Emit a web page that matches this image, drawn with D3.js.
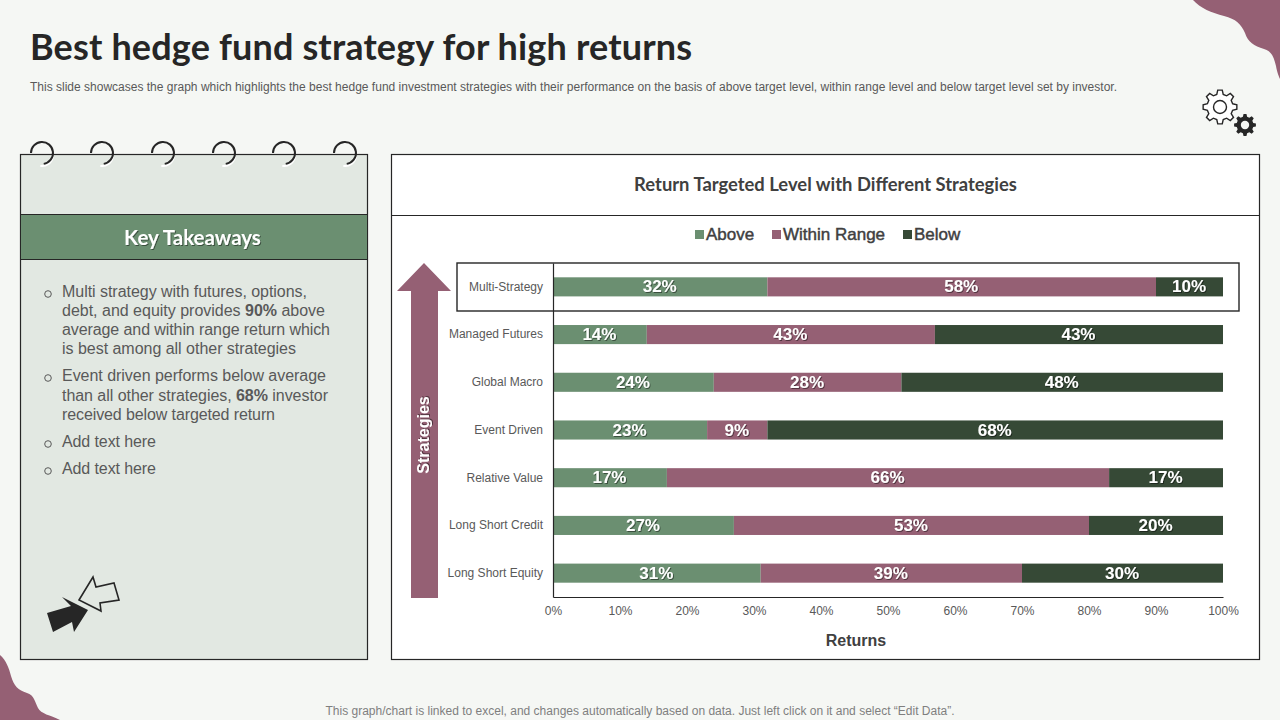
<!DOCTYPE html>
<html>
<head>
<meta charset="utf-8">
<script src="https://cdn.jsdelivr.net/npm/d3@7"></script>
<style>
  html, body { margin: 0; padding: 0; background: #f5f7f4; }
  svg { display: block; }
  text { font-family: "Liberation Sans", Arial, sans-serif; }
  .head { font-family: Lato, "Open Sans", sans-serif; font-weight: 700; }
</style>
</head>
<body>
<svg id="chart" width="1280" height="720"></svg>
<script>
// chart data
const categories = ["Multi-Strategy", "Managed Futures", "Global Macro", "Event Driven", "Relative Value", "Long Short Credit", "Long Short Equity"];
const seriesNames = ["Above", "Within Range", "Below"];
const above = [32, 14, 24, 23, 17, 27, 31];
const withinRange = [58, 43, 28, 9, 66, 53, 39];
const below = [10, 43, 48, 68, 17, 20, 30];
const xTicks = [0, 10, 20, 30, 40, 50, 60, 70, 80, 90, 100];

const green = "#6b8f71", plum = "#956074", dark = "#364936";
const ink = "#262626", grey = "#595959";

const svg = d3.select("#chart");

const defs = svg.append("defs");
const shadow = defs.append("filter").attr("id", "txtShadow").attr("x", "-10%").attr("y", "-20%").attr("width", "120%").attr("height", "150%");
shadow.append("feDropShadow").attr("dx", 1).attr("dy", 1).attr("stdDeviation", 0.6).attr("flood-color", "#000").attr("flood-opacity", 0.45);

// corner blobs
svg.append("path").attr("fill", plum)
  .attr("d", "M1193,0 C1200,8 1212,13 1224,16 C1236,19 1241,24 1245,33 C1248,42 1254,46 1264,49 C1272,51 1274,58 1276,66 C1277,72 1279,77 1280,79 L1280,0 Z");
svg.append("path").attr("fill", plum)
  .attr("d", "M0,655 C6,660 9,668 11,676 C14,686 18,690 27,693 C34,695 35,702 38,708 C41,714 50,715 60,720 L0,720 Z");

// title block
svg.append("text").attr("class", "head").attr("x", 30).attr("y", 60)
  .attr("font-size", 36).attr("fill", ink).attr("textLength", 662)
  .text("Best hedge fund strategy for high returns");
svg.append("text").attr("x", 30).attr("y", 91).attr("font-size", 12).attr("fill", grey)
  .attr("textLength", 1087)
  .text("This slide showcases the graph which highlights the best hedge fund investment strategies with their performance on the basis of above target level, within range level and below target level set by investor.");
svg.append("text").attr("x", 640).attr("y", 715).attr("text-anchor", "middle").attr("font-size", 12).attr("fill", "#7f7f7f")
  .text("This graph/chart is linked to excel, and changes automatically based on data. Just left click on it and select \u201cEdit Data\u201d.");

// gears
function gearPath(cx, cy, rOut, rIn, teeth) {
  const pts = [];
  const step = Math.PI * 2 / teeth;
  for (let i = 0; i < teeth; i++) {
    const a = i * step;
    pts.push([a - step * 0.32, rIn], [a - step * 0.17, rOut], [a + step * 0.17, rOut], [a + step * 0.32, rIn]);
  }
  return d3.line().curve(d3.curveLinearClosed)
    .x(d => cx + d[1] * Math.cos(d[0]))
    .y(d => cy + d[1] * Math.sin(d[0]))(pts);
}
svg.append("path").attr("d", gearPath(1220, 107, 17, 13, 8)).attr("fill", "#fff").attr("stroke", ink).attr("stroke-width", 1.4);
svg.append("circle").attr("cx", 1220).attr("cy", 107).attr("r", 6.5).attr("fill", "none").attr("stroke", ink).attr("stroke-width", 1.4);
svg.append("path").attr("d", gearPath(1245, 125, 11, 8.5, 8)).attr("fill", ink);
svg.append("circle").attr("cx", 1245).attr("cy", 125).attr("r", 4.2).attr("fill", "#f5f7f4");

// left notepad panel
const panel = svg.append("g");
panel.append("rect").attr("x", 20.5).attr("y", 154.5).attr("width", 347).attr("height", 505)
  .attr("fill", "#e2e8e2").attr("stroke", ink).attr("stroke-width", 1.2);
panel.append("rect").attr("x", 20.5).attr("y", 214.5).attr("width", 347).attr("height", 45)
  .attr("fill", green).attr("stroke", ink).attr("stroke-width", 1);
panel.append("text").attr("class", "head").attr("x", 192.5).attr("y", 245).attr("text-anchor", "middle")
  .attr("font-size", 20.5).attr("fill", "#fff").attr("filter", "url(#txtShadow)").text("Key Takeaways");

const ringX = [42, 102, 163, 224, 284, 345];
const ringArc = d3.arc().innerRadius(10).outerRadius(12).startAngle(-Math.PI / 2).endAngle(Math.PI * 0.95);
panel.selectAll(".ringShadow").data(ringX).enter().append("path")
  .attr("transform", d => `translate(${d},155)`)
  .attr("d", d3.arc().innerRadius(10).outerRadius(12).startAngle(Math.PI * 0.55).endAngle(Math.PI * 1.05)())
  .attr("fill", "#fff");
panel.selectAll(".ring").data(ringX).enter().append("path")
  .attr("transform", d => `translate(${d},153)`)
  .attr("d", ringArc())
  .attr("fill", ink);

// takeaway bullets, each line is one text element stretched to the reference width
const bulletLines = [
  { y: 297, w: 245, bullet: true, parts: [["Multi strategy with futures, options,", 400]] },
  { y: 316, w: 263, parts: [["debt, and equity provides ", 400], ["90%", 700], [" above", 400]] },
  { y: 335, w: 268, parts: [["average and within range return which", 400]] },
  { y: 354, w: 234, parts: [["is best among all other strategies", 400]] },
  { y: 381, w: 264, bullet: true, parts: [["Event driven performs below average", 400]] },
  { y: 401, w: 266, parts: [["than all other strategies, ", 400], ["68%", 700], [" investor", 400]] },
  { y: 420, w: 213, parts: [["received below targeted return", 400]] },
  { y: 447, w: 94, bullet: true, parts: [["Add text here", 400]] },
  { y: 474, w: 94, bullet: true, parts: [["Add text here", 400]] }
];
bulletLines.forEach(line => {
  const t = panel.append("text").attr("x", 62).attr("y", line.y).attr("font-size", 16).attr("fill", grey).attr("textLength", line.w);
  line.parts.forEach(p => t.append("tspan").attr("font-weight", p[1]).text(p[0]));
  if (line.bullet) {
    panel.append("circle").attr("cx", 48).attr("cy", line.y - 3).attr("r", 3.3)
      .attr("fill", "none").attr("stroke", grey).attr("stroke-width", 1);
  }
});

// arrow icons
panel.append("path").attr("fill", ink).attr("d", "M47,613 L71,606 L62,597 L88,610 L74,632 L72,622 L53,632 Z");
panel.append("path").attr("fill", "none").attr("stroke", ink).attr("stroke-width", 1.6)
  .attr("d", "M79,600 L93,577 L96,587 L114,583 L119,600 L100,603 L101,611 Z");

// chart frame
const frame = svg.append("g");
frame.append("rect").attr("x", 391.5).attr("y", 154.5).attr("width", 868).attr("height", 505)
  .attr("fill", "#fff").attr("stroke", ink).attr("stroke-width", 1.2);
frame.append("line").attr("x1", 391.5).attr("x2", 1259.5).attr("y1", 215.5).attr("y2", 215.5)
  .attr("stroke", ink).attr("stroke-width", 1.2);
frame.append("text").attr("class", "head").attr("x", 825.5).attr("y", 190.5).attr("text-anchor", "middle")
  .attr("font-size", 18.4).attr("fill", "#404040").text("Return Targeted Level with Different Strategies");

// scales
const x = d3.scaleLinear().domain([0, 100]).range([553, 1223]);
const y = d3.scaleBand().domain(categories).range([263, 597]).paddingInner(0.6).paddingOuter(0.3);
const color = d3.scaleOrdinal().domain(seriesNames).range([green, plum, dark]);

// stacked bars
const rows = categories.map((c, i) => ({ category: c, Above: above[i], "Within Range": withinRange[i], Below: below[i] }));
const stacked = d3.stack().keys(seriesNames)(rows);
const chart = svg.append("g");
const layers = chart.selectAll(".layer").data(stacked).enter().append("g").attr("class", "layer").attr("fill", d => color(d.key));
layers.selectAll("rect").data(d => d).enter().append("rect")
  .attr("x", d => x(d[0]))
  .attr("y", d => y(d.data.category))
  .attr("width", d => x(d[1]) - x(d[0]))
  .attr("height", y.bandwidth());
layers.selectAll("text").data(d => d).enter().append("text")
  .attr("x", d => (x(d[0]) + x(d[1])) / 2 - 0.5)
  .attr("y", d => y(d.data.category) + y.bandwidth() / 2)
  .attr("dy", "0.33em")
  .attr("text-anchor", "middle")
  .attr("font-size", 17).attr("font-weight", 700).attr("fill", "#fff")
  .attr("filter", "url(#txtShadow)")
  .text(d => `${d[1] - d[0]}%`);

// axes
const xAxis = chart.append("g").attr("transform", "translate(0,597)")
  .call(d3.axisBottom(x).tickValues(xTicks).tickFormat(d => `${d}%`).tickSize(0).tickPadding(9));
const yAxis = chart.append("g").attr("transform", "translate(553,0)")
  .call(d3.axisLeft(y).tickSize(0).tickPadding(10));
[xAxis, yAxis].forEach(a => {
  a.select(".domain").attr("stroke", ink).attr("stroke-width", 1.2);
  a.selectAll("text").attr("font-size", 12).attr("fill", grey).attr("font-family", '"Liberation Sans", Arial, sans-serif');
});

chart.append("text").attr("x", 856).attr("y", 646).attr("text-anchor", "middle")
  .attr("font-size", 16).attr("font-weight", 700).attr("fill", "#404040").text("Returns");

// highlight around first row
chart.append("rect").attr("x", 457).attr("y", 263).attr("width", 782).attr("height", 48)
  .attr("fill", "none").attr("stroke", ink).attr("stroke-width", 1.4);

// legend
const legendX = [695, 772, 903];
const legend = svg.append("g").selectAll("g").data(seriesNames).enter().append("g")
  .attr("transform", (d, i) => `translate(${legendX[i]},0)`);
legend.append("rect").attr("y", 230).attr("width", 9).attr("height", 9).attr("fill", d => color(d));
legend.append("text").attr("x", 11).attr("y", 240).attr("font-size", 17).attr("font-weight", 400)
  .attr("stroke", "#404040").attr("stroke-width", 0.45).attr("fill", "#404040").text(d => d);

// strategies arrow
svg.append("path").attr("fill", plum).attr("d", "M424,263 L451,291 L438,291 L438,598 L411,598 L411,291 L397,291 Z");
svg.append("text").attr("transform", "translate(429,435) rotate(-90)").attr("text-anchor", "middle")
  .attr("font-size", 16).attr("font-weight", 700).attr("fill", "#fff").attr("filter", "url(#txtShadow)").text("Strategies");
</script>
</body>
</html>
